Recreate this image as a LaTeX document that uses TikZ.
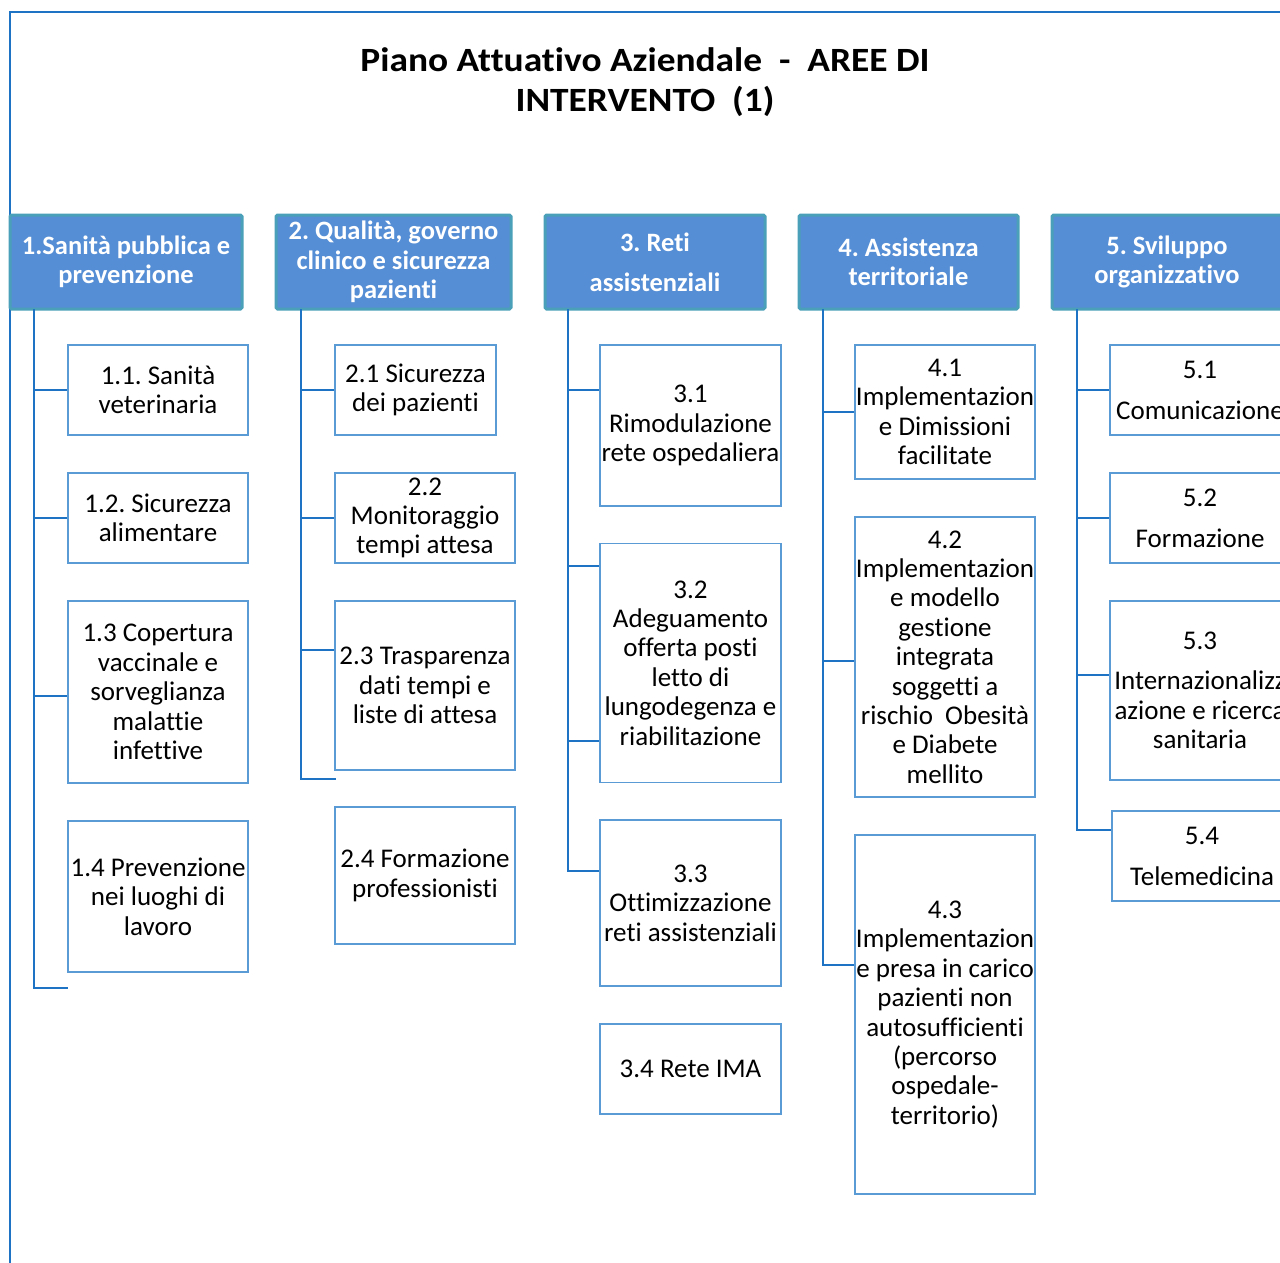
\documentclass[tikz,border=0pt]{standalone}
\usepackage{fontspec}
\setmainfont{Carlito}[Ligatures=NoCommon]
\newfontfamily\titlefont{Carlito}[Ligatures=NoCommon, FakeStretch=1.1]
\frenchspacing
\begin{document}
\definecolor{headfill}{RGB}{85,142,213}
\definecolor{headedge}{RGB}{74,160,184}
\definecolor{boxedge}{RGB}{91,155,213}
\definecolor{linkblue}{RGB}{31,115,196}
\begin{tikzpicture}[x=1pt,y=-1pt,
  head/.style={draw=headedge, line width=3pt, fill=headfill, rounded corners=1.5pt,
    text=white, font=\fontsize{26.5}{29.5}\selectfont\bfseries, align=center, inner sep=0pt,
    minimum height=94pt},
  item/.style={draw=boxedge, line width=1.2pt, fill=white, align=center, inner sep=0pt,
    font=\fontsize{27}{29.4}\selectfont, minimum width=180pt},
  conn/.style={draw=linkblue, line width=1.4pt},
  frame/.style={draw=linkblue, line width=2pt}]
\useasboundingbox (0,0) rectangle (1280,1262);
\clip (0,0) rectangle (1280,1262);
% outer frame
\draw[frame] (1290,12) -- (10,12) -- (10,1270);
% title
\node[font=\titlefont\fontsize{34}{40}\selectfont\bfseries, align=center] (title) at (645,82)
  {Piano Attuativo Aziendale \ - \ AREE DI\\INTERVENTO \ (1)};

% area headers
\node[head, minimum width=232pt] (h1) at (126,262) {1.Sanità pubblica e\\prevenzione};
\node[head, minimum width=235pt] (h2) at (393.5,262) {2. Qualità, governo\\clinico e sicurezza\\pazienti};
\node[head, minimum width=220pt, font=\fontsize{26.5}{40}\selectfont\bfseries] (h3) at (655,262) {3. Reti\\assistenziali};
\node[head, minimum width=219pt] (h4) at (908.5,262) {4. Assistenza\\territoriale};
\node[head, minimum width=230pt] (h5) at (1167,262) {5. Sviluppo\\organizzativo};

% column 1
\node[item, minimum height=90pt] (b11) at (158,390) {1.1. Sanità\\veterinaria};
\node[item, minimum height=90pt] (b12) at (158,518) {1.2. Sicurezza\\alimentare};
\node[item, minimum height=182pt] (b13) at (158,692) {1.3 Copertura\\vaccinale e\\sorveglianza\\malattie\\infettive};
\node[item, minimum height=151pt] (b14) at (158,896.5) {1.4 Prevenzione\\nei luoghi di\\lavoro};

% column 2
\node[item, minimum width=161pt, minimum height=90pt] (b21) at (415.5,390) {2.1 Sicurezza\\dei pazienti};
\node[item, minimum height=90pt] (b22) at (425,518) {2.2\\Monitoraggio\\tempi attesa};
\node[item, minimum height=169pt] (b23) at (425,685.5) {2.3 Trasparenza\\dati tempi e\\liste di attesa};
\node[item, minimum height=137pt] (b24) at (425,875.5) {2.4 Formazione\\professionisti};

% column 3
\node[item, minimum width=181pt, minimum height=161pt] (b31) at (690.5,425.5) {3.1\\Rimodulazione\\rete ospedaliera};
\node[item, minimum width=181pt, minimum height=239pt] (b32) at (690.5,663) {3.2\\Adeguamento\\offerta posti\\letto di\\lungodegenza e\\riabilitazione};
\node[item, minimum width=181pt, minimum height=166pt] (b33) at (690.5,903) {3.3\\Ottimizzazione\\reti assistenziali};
\node[item, minimum width=181pt, minimum height=90pt] (b34) at (690.5,1069) {3.4 Rete IMA};

% column 4
\node[item, minimum height=134pt] (b41) at (945,412) {4.1\\Implementazion\\e Dimissioni\\facilitate};
\node[item, minimum height=280pt] (b42) at (945,657) {4.2\\Implementazion\\e modello\\gestione\\integrata\\soggetti a\\rischio \ Obesità\\e Diabete\\mellito};
\node[item, minimum height=359pt] (b43) at (945,1014.5) {4.3\\Implementazion\\e presa in carico\\pazienti non\\autosufficienti\\(percorso\\ospedale-\\territorio)};

% column 5
\node[item, minimum height=90pt, font=\fontsize{27}{41}\selectfont] (b51) at (1200,390) {5.1\\Comunicazione};
\node[item, minimum height=90pt, font=\fontsize{27}{41}\selectfont] (b52) at (1200,518) {5.2\\Formazione};
\node[item, minimum height=179pt] (b53) at (1200,690.5) {5.3\\[10.5pt]Internazionalizz\\azione e ricerca\\sanitaria};
\node[item, minimum height=90pt, font=\fontsize{27}{41}\selectfont] (b54) at (1202,856) {5.4\\Telemedicina};

% trunk tops and open ends
\coordinate (k1) at (34,309);
\coordinate (k2) at (301,309);
\coordinate (k3) at (568,309);
\coordinate (k4) at (823,309);
\coordinate (k5) at (1077,309);
\coordinate (e1) at (68,988);
\coordinate (e2) at (336,779);

% connectors
\draw[conn] (k1) |- (b11.west);
\draw[conn] (k1) |- (b12.west);
\draw[conn] (k1) |- ([yshift=-4pt]b13.west);
\draw[conn] (k1) |- (e1);

\draw[conn] (k2) |- (b21.west);
\draw[conn] (k2) |- (b22.west);
\draw[conn] (k2) |- ([yshift=35.5pt]b23.west);
\draw[conn] (k2) |- (e2);

\draw[conn] (k3) |- ([yshift=35.5pt]b31.west);
\draw[conn] (k3) |- ([yshift=97pt]b32.west);
\draw[conn] (k3) |- ([yshift=-78pt]b32.west);
\draw[conn] (k3) |- ([yshift=32pt]b33.west);

\draw[conn] (k4) |- (b41.west);
\draw[conn] (k4) |- ([yshift=-4pt]b42.west);
\draw[conn] (k4) |- ([yshift=49.5pt]b43.west);

\draw[conn] (k5) |- (b51.west);
\draw[conn] (k5) |- (b52.west);
\draw[conn] (k5) |- ([yshift=15.5pt]b53.west);
\draw[conn] (k5) |- ([yshift=26pt]b54.west);
\end{tikzpicture}
\end{document}
